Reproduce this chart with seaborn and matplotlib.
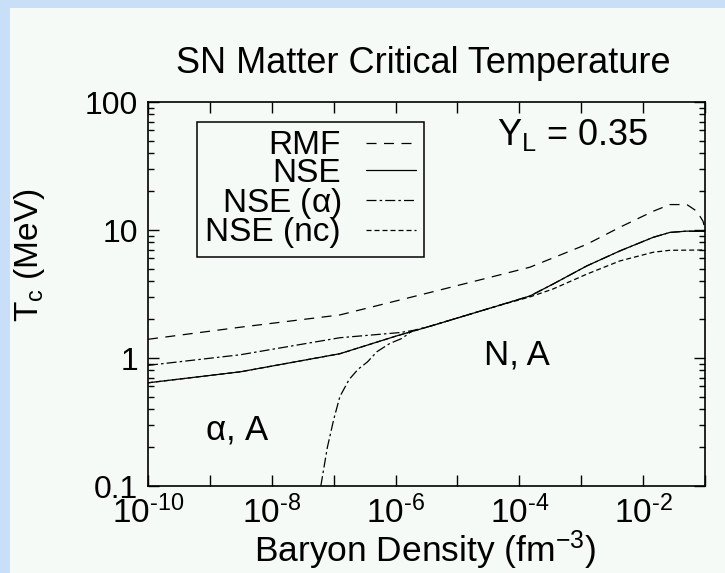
import numpy as np
import pandas as pd
import matplotlib
matplotlib.use('Agg')
import matplotlib.pyplot as plt
import matplotlib.ticker as mticker
from matplotlib.patches import Rectangle
import seaborn as sns

# Values (density in fm^-3, Tc in MeV)
rmf_n = [1e-10, 3.1e-9, 1.26e-7, 3.6e-6, 4.4e-5, 1.48e-4, 1.23e-3, 4.2e-3, 1.45e-2, 2.7e-2, 5.1e-2, 7.4e-2, 9.3e-2, 1e-1]
rmf_T = [1.40, 1.74, 2.17, 3.25, 4.41, 5.12, 7.73, 10.5, 14.0, 15.8, 15.8, 14.0, 11.7, 10.1]

nse_n = [1e-10, 3.1e-9, 1.26e-7, 1.05e-6, 3.6e-6, 4.4e-5, 1.48e-4, 3.5e-4, 1.23e-3, 4.2e-3, 1.45e-2, 2.7e-2, 5.1e-2, 1e-1]
nse_T = [0.64, 0.78, 1.08, 1.49, 1.77, 2.55, 3.05, 3.78, 5.24, 6.86, 8.76, 9.57, 9.80, 9.75]

# NSE (alpha): upper branch from low density, joining NSE near 2e-6
alpha_n = [1e-10, 3.1e-9, 1.26e-7, 1.17e-6, 1.9e-6, 3.6e-6, 4.4e-5, 1.48e-4, 3.5e-4, 1.23e-3, 4.2e-3, 1.45e-2, 2.7e-2, 5.1e-2, 1e-1]
alpha_T = [0.876, 1.06, 1.44, 1.58, 1.64, 1.77, 2.55, 3.05, 3.78, 5.24, 6.86, 8.76, 9.57, 9.80, 9.75]
# NSE (alpha): steep lower branch
alpha_low_n = [6.2e-8, 7.9e-8, 1e-7, 1.26e-7, 1.78e-7, 2.5e-7, 3.5e-7, 5e-7, 8.1e-7, 1.26e-6, 1.9e-6]
alpha_low_T = [0.1, 0.2, 0.33, 0.5, 0.68, 0.82, 0.93, 1.12, 1.3, 1.42, 1.64]

nc_n = [1e-10, 3.1e-9, 1.26e-7, 1.05e-6, 3.6e-6, 4.4e-5, 1.48e-4, 3.5e-4, 1.23e-3, 4.2e-3, 1.45e-2, 2.7e-2, 1e-1]
nc_T = [0.64, 0.78, 1.08, 1.49, 1.77, 2.55, 3.0, 3.46, 4.52, 5.73, 6.70, 6.94, 6.98]

xticks = [1e-10, 1e-9, 1e-8, 1e-7, 1e-6, 1e-5, 1e-4, 1e-3, 1e-2, 1e-1]
xtick_labels = [r'$10^{\text{-}10}$', '', r'$10^{\text{-}8}$', '', r'$10^{\text{-}6}$', '',
                r'$10^{\text{-}4}$', '', r'$10^{\text{-}2}$', '']
yticks = [0.1, 1, 10, 100]
ytick_labels = ['0.1', '1', '10', '100']

sns.set_theme(style='ticks')
plt.rcParams['font.family'] = ['Liberation Sans', 'DejaVu Sans']
plt.rcParams['mathtext.fontset'] = 'custom'
plt.rcParams['mathtext.rm'] = 'Liberation Sans'
plt.rcParams['mathtext.it'] = 'Liberation Serif:italic'
plt.rcParams['mathtext.default'] = 'rm'
plt.rcParams['text.color'] = 'black'

panel = '#f5faf7'
fig = plt.figure(figsize=(7.25, 5.73), dpi=100)
fig.patch.set_facecolor('#c9def7')
fig.patches.append(Rectangle((10 / 725, 0), 1, 1 - 8 / 573, transform=fig.transFigure,
                             facecolor=panel, edgecolor='none', zorder=-10))

ax = fig.add_axes([148 / 725, (573 - 486) / 573, 557 / 725, 384 / 573])
ax.set_facecolor(panel)

lw = 0.9
dash_rmf = (0, (8, 6))
dash_alpha = (0, (8, 2.5, 2, 2.5))
dash_nc = (0, (4, 2.4))

sns.lineplot(x=rmf_n, y=rmf_T, ax=ax, color='black', lw=lw, linestyle=dash_rmf,
             estimator=None, label='RMF')
sns.lineplot(x=nse_n, y=nse_T, ax=ax, color='black', lw=lw, linestyle='-',
             estimator=None, label='NSE')
sns.lineplot(x=alpha_n, y=alpha_T, ax=ax, color='black', lw=lw, linestyle=dash_alpha,
             estimator=None, label=r'NSE ($\alpha$)')
sns.lineplot(x=alpha_low_n, y=alpha_low_T, ax=ax, color='black', lw=lw, linestyle=dash_alpha,
             estimator=None)
sns.lineplot(x=nc_n, y=nc_T, ax=ax, color='black', lw=lw, linestyle=dash_nc,
             estimator=None, label='NSE (nc)')

ax.set_xscale('log')
ax.set_yscale('log')
ax.set_xlim(1e-10, 1e-1)
ax.set_ylim(0.1, 100)

ax.set_xticks(xticks)
ax.set_xticklabels(xtick_labels)
ax.xaxis.set_minor_locator(mticker.NullLocator())
ax.set_yticks(yticks)
ax.set_yticklabels(ytick_labels)
ax.yaxis.set_minor_locator(mticker.LogLocator(base=10, subs=np.arange(2, 10)))
ax.yaxis.set_minor_formatter(mticker.NullFormatter())

ax.tick_params(which='both', direction='in', top=True, right=True, color='black', width=1)
ax.tick_params(which='major', length=8, labelcolor='black')
ax.tick_params(which='minor', length=4)
ax.tick_params(axis='x', pad=7, labelsize=24)
ax.tick_params(axis='y', pad=7, labelsize=23)
for s in ax.spines.values():
    s.set_color('black')
    s.set_linewidth(1.2)

ax.set_xlabel('')
ax.set_ylabel('')

leg = ax.legend(loc='upper left', bbox_to_anchor=(0.088, 0.948), borderaxespad=0,
                markerfirst=False, fontsize=24, handlelength=1.5, handletextpad=0.75,
                labelspacing=-0.1, borderpad=0.25, fancybox=False, framealpha=1,
                facecolor=panel, edgecolor='black')
leg.get_frame().set_linewidth(1.1)
leg._legend_handle_box.get_children()[0].align = 'right'
for t in leg.get_texts():
    t.set_color('black')

ax.text(0.627, 0.914, 'Y$_\\mathrm{L}$ = 0.35', transform=ax.transAxes, fontsize=26,
        ha='left', va='center')
ax.text(0.662, 0.341, 'N, A', transform=ax.transAxes, fontsize=25, ha='center', va='center')
ax.text(0.16, 0.146, r'$\alpha$, A', transform=ax.transAxes, fontsize=25, ha='center', va='center')

fig.text(0.584, 0.89, 'SN Matter Critical Temperature', fontsize=26, ha='center', va='center')
fig.text(0.586, 0.04, 'Baryon Density (fm$^{-3}$)', fontsize=25.5, ha='center', va='center')
fig.text(0.041, 0.555, 'T$_\\mathrm{c}$ (MeV)', fontsize=24, ha='center', va='center', rotation=90)

fig.savefig('out.png', dpi=100, facecolor=fig.get_facecolor())
